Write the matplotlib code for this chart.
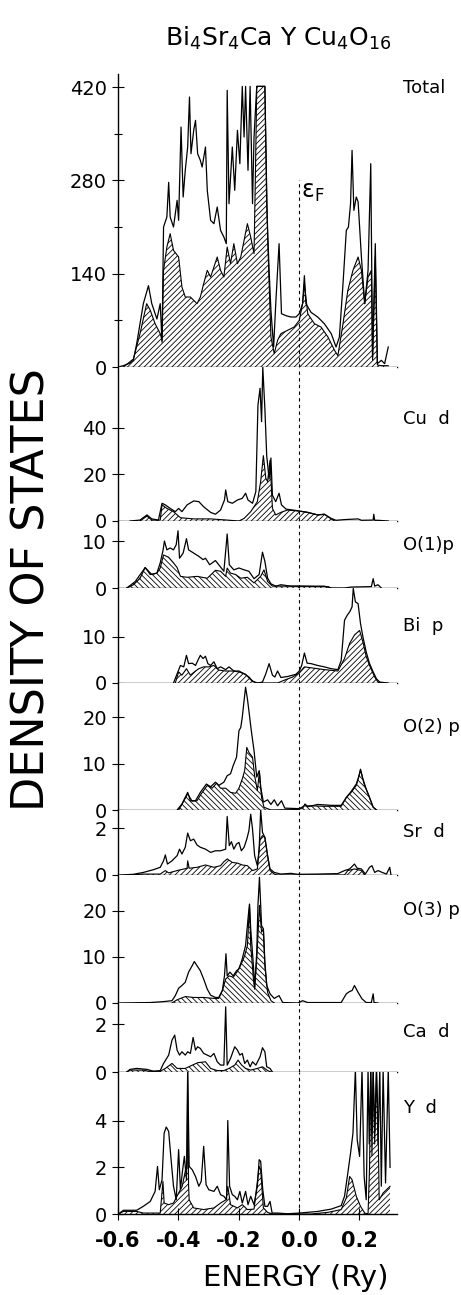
import numpy as np
import matplotlib
matplotlib.use("Agg")
import matplotlib.pyplot as plt

plt.rcParams['font.family'] = ['DejaVu Sans']
plt.rcParams['mathtext.default'] = 'regular'
plt.rcParams['hatch.color'] = 'black'
plt.rcParams['hatch.linewidth'] = 0.6

# energy (Ry), density of states -- upper line / hatched part, per panel
tot_up = np.array([(-0.600, 0), (-0.582, 2), (-0.560, 6), (-0.549, 10), (-0.538, 35), (-0.516, 95),
    (-0.499, 122), (-0.488, 95), (-0.471, 72), (-0.460, 95), (-0.454, 37), (-0.449, 210),
    (-0.438, 225), (-0.432, 277), (-0.427, 225), (-0.416, 210), (-0.404, 250), (-0.399, 220),
    (-0.391, 360), (-0.384, 255), (-0.377, 295), (-0.369, 330), (-0.363, 405), (-0.358, 320),
    (-0.349, 355), (-0.343, 370), (-0.336, 320), (-0.327, 310), (-0.321, 300), (-0.310, 330),
    (-0.304, 265), (-0.293, 220), (-0.282, 215), (-0.271, 240), (-0.260, 205), (-0.249, 195),
    (-0.241, 185), (-0.238, 415), (-0.232, 245), (-0.221, 330), (-0.213, 265), (-0.204, 355),
    (-0.196, 305), (-0.188, 421), (-0.182, 345), (-0.177, 421), (-0.169, 295), (-0.162, 421),
    (-0.154, 245), (-0.149, 345), (-0.140, 421), (-0.132, 421), (-0.121, 421), (-0.113, 421),
    (-0.107, 245), (-0.099, 145), (-0.093, 85), (-0.084, 30), (-0.077, 95), (-0.066, 185),
    (-0.058, 80), (-0.043, 77), (-0.027, 75), (-0.010, 75), (0.001, 80), (0.012, 95),
    (0.018, 137), (0.023, 95), (0.040, 82), (0.062, 75), (0.084, 65), (0.107, 50),
    (0.123, 30), (0.134, 45), (0.146, 125), (0.157, 205), (0.164, 210), (0.171, 245),
    (0.176, 325), (0.182, 235), (0.190, 255), (0.196, 248), (0.207, 165), (0.218, 95),
    (0.229, 145), (0.238, 305), (0.244, 15), (0.253, 185), (0.260, 5), (0.273, 10),
    (0.284, 5), (0.296, 30)])
tot_hat = np.array([(-0.582, 0), (-0.549, 12), (-0.527, 50), (-0.505, 95), (-0.493, 85), (-0.477, 65),
    (-0.460, 50), (-0.454, 40), (-0.449, 145), (-0.438, 180), (-0.427, 200), (-0.416, 175),
    (-0.399, 165), (-0.388, 120), (-0.377, 105), (-0.360, 105), (-0.338, 95), (-0.327, 105),
    (-0.316, 125), (-0.304, 145), (-0.293, 135), (-0.282, 150), (-0.271, 165), (-0.260, 145),
    (-0.249, 135), (-0.238, 180), (-0.227, 155), (-0.216, 185), (-0.204, 155), (-0.193, 165),
    (-0.182, 190), (-0.171, 215), (-0.160, 195), (-0.149, 170), (-0.144, 300), (-0.140, 421),
    (-0.121, 421), (-0.113, 421), (-0.104, 195), (-0.093, 45), (-0.082, 20), (-0.071, 40),
    (-0.060, 50), (-0.038, 55), (-0.016, 60), (0.001, 70), (0.012, 95), (0.018, 125),
    (0.029, 80), (0.051, 65), (0.073, 60), (0.096, 45), (0.118, 25), (0.129, 17),
    (0.146, 65), (0.162, 115), (0.179, 145), (0.196, 165), (0.207, 145), (0.218, 95),
    (0.229, 135), (0.240, 145), (0.244, 10), (0.253, 165), (0.260, 3), (0.273, 2), (0.296, 2)])

cud_up = np.array([(-0.560, 0), (-0.527, 0.4), (-0.504, 2.6), (-0.488, 0.9), (-0.466, 0.4), (-0.454, 7.6),
    (-0.443, 6.9), (-0.427, 5.4), (-0.410, 4.0), (-0.399, 5.4), (-0.388, 4.0), (-0.371, 6.9),
    (-0.349, 8.6), (-0.332, 8.3), (-0.316, 6.1), (-0.293, 3.7), (-0.277, 2.9), (-0.260, 4.7),
    (-0.247, 9.0), (-0.243, 13.3), (-0.236, 8.3), (-0.221, 7.6), (-0.204, 9.0), (-0.188, 9.7),
    (-0.177, 11.9), (-0.169, 9.0), (-0.154, 7.6), (-0.143, 12.6), (-0.136, 49.7), (-0.129, 56.9),
    (-0.124, 42.6), (-0.120, 66), (-0.113, 48), (-0.107, 28), (-0.099, 18), (-0.093, 27),
    (-0.088, 11), (-0.077, 8.3), (-0.066, 11.9), (-0.058, 6.9), (-0.043, 5.1), (-0.021, 4.7),
    (0.001, 4.3), (0.029, 3.7), (0.062, 2.6), (0.084, 2.9), (0.107, 1.1), (0.123, 0.3),
    (0.151, 0.6), (0.196, 0.9), (0.207, 0.3), (0.246, 0.4), (0.248, 2.9), (0.251, 0.3),
    (0.262, 0.3), (0.296, 0)])
cud_hat = np.array([(-0.527, 0), (-0.504, 2.1), (-0.488, 0.4), (-0.460, 0.4), (-0.454, 6.9), (-0.438, 5.4),
    (-0.416, 4.0), (-0.393, 1.4), (-0.349, 0.9), (-0.293, 0.9), (-0.238, 0.4), (-0.199, 0),
    (-0.182, 1.1), (-0.160, 4.0), (-0.138, 8.3), (-0.127, 16.9), (-0.118, 28), (-0.110, 18.3),
    (-0.104, 16.9), (-0.096, 26), (-0.088, 5.4), (-0.077, 2.6), (-0.060, 3.7), (-0.038, 4.7),
    (-0.004, 4.3), (0.029, 3.7), (0.062, 2.6), (0.084, 2.9), (0.107, 0.9), (0.118, 0)])

o1p_up = np.array([(-0.571, 0), (-0.549, 0.7), (-0.527, 2.1), (-0.510, 4.4), (-0.493, 2.9), (-0.471, 3.2),
    (-0.460, 5.4), (-0.451, 8.0), (-0.446, 10.1), (-0.438, 8.2), (-0.427, 8.6), (-0.416, 8.2),
    (-0.407, 9.3), (-0.401, 12.3), (-0.396, 6.4), (-0.384, 7.5), (-0.373, 10.6), (-0.366, 8.2),
    (-0.349, 7.5), (-0.332, 6.8), (-0.318, 6.1), (-0.310, 6.4), (-0.296, 5.0), (-0.277, 5.9),
    (-0.266, 5.0), (-0.249, 3.6), (-0.238, 11.6), (-0.231, 5.0), (-0.216, 3.9), (-0.199, 4.3),
    (-0.182, 3.9), (-0.166, 3.6), (-0.149, 2.0), (-0.132, 2.9), (-0.121, 7.7), (-0.113, 5.7),
    (-0.104, 2.1), (-0.093, 0.9), (-0.077, 0.4), (-0.060, 0.7), (-0.027, 0.4), (0.040, 0.4),
    (0.084, 0.4), (0.107, 0), (0.151, 0), (0.173, 0.2), (0.240, 0.3), (0.246, 2.0),
    (0.251, 0.4), (0.262, 0.7), (0.273, 0)])
o1p_hat = np.array([(-0.571, 0), (-0.543, 1.4), (-0.510, 4.4), (-0.488, 2.9), (-0.471, 3.2), (-0.460, 4.3),
    (-0.449, 7.1), (-0.432, 6.6), (-0.416, 5.4), (-0.404, 4.4), (-0.393, 2.5), (-0.371, 2.3),
    (-0.338, 2.5), (-0.304, 2.1), (-0.277, 3.8), (-0.260, 3.6), (-0.243, 2.5), (-0.238, 4.3),
    (-0.227, 3.2), (-0.210, 2.9), (-0.193, 2.1), (-0.171, 2.3), (-0.149, 1.1), (-0.127, 2.5),
    (-0.116, 3.9), (-0.104, 1.4), (-0.088, 0.4), (-0.060, 0.4), (-0.004, 0.4), (0.062, 0.3),
    (0.096, 0.3), (0.107, 0)])

bip_up = np.array([(-0.416, 0), (-0.404, 2.0), (-0.393, 3.8), (-0.382, 3.5), (-0.373, 6.0), (-0.366, 4.2),
    (-0.354, 4.3), (-0.343, 3.8), (-0.336, 4.8), (-0.327, 6.0), (-0.318, 5.3), (-0.310, 5.8),
    (-0.302, 4.2), (-0.293, 3.8), (-0.282, 4.6), (-0.271, 3.1), (-0.260, 3.5), (-0.243, 2.9),
    (-0.232, 3.5), (-0.216, 2.6), (-0.199, 2.6), (-0.182, 2.0), (-0.166, 1.3), (-0.154, 0.4),
    (-0.138, 0), (-0.121, 0.2), (-0.110, 2.0), (-0.099, 4.2), (-0.088, 1.7), (-0.080, 1.3),
    (-0.071, 2.6), (-0.060, 1.2), (-0.038, 1.4), (-0.010, 1.9), (0.001, 2.6), (0.009, 3.8),
    (0.018, 6.5), (0.027, 4.3), (0.040, 4.2), (0.062, 3.8), (0.084, 3.5), (0.107, 3.1),
    (0.129, 2.9), (0.140, 4.9), (0.151, 13.6), (0.160, 14.7), (0.168, 15.4), (0.176, 16.5),
    (0.180, 20.5), (0.187, 17.6), (0.196, 17.2), (0.204, 12.9), (0.212, 10.0), (0.223, 6.7),
    (0.234, 4.2), (0.246, 2.4), (0.257, 0.9), (0.268, 0.2), (0.296, 0)])
bip_hat = np.array([(-0.410, 0), (-0.399, 2.4), (-0.388, 1.7), (-0.373, 3.1), (-0.360, 1.7), (-0.343, 2.6),
    (-0.332, 3.1), (-0.316, 3.5), (-0.299, 3.5), (-0.282, 3.8), (-0.266, 2.8), (-0.243, 2.6),
    (-0.221, 2.6), (-0.199, 2.4), (-0.177, 1.9), (-0.160, 0.7), (-0.143, 0), (-0.071, 0),
    (-0.049, 0.6), (-0.021, 1.3), (0.001, 2.2), (0.018, 3.5), (0.040, 3.3), (0.084, 2.9),
    (0.129, 2.6), (0.151, 5.3), (0.168, 8.6), (0.184, 10.4), (0.201, 11.4), (0.212, 8.9),
    (0.223, 5.7), (0.234, 3.8), (0.251, 1.3), (0.262, 0.2), (0.273, 0)])

o2p_up = np.array([(-0.404, 0), (-0.388, 1.3), (-0.369, 3.8), (-0.360, 2.0), (-0.343, 2.0), (-0.327, 3.8),
    (-0.307, 5.6), (-0.293, 5.0), (-0.277, 6.0), (-0.266, 5.3), (-0.249, 6.0), (-0.238, 7.4),
    (-0.227, 7.8), (-0.218, 9.6), (-0.207, 11.4), (-0.199, 17.1), (-0.193, 17.8), (-0.188, 20.0),
    (-0.182, 23.6), (-0.177, 26.5), (-0.171, 24.0), (-0.166, 21.4), (-0.158, 17.1), (-0.149, 12.8),
    (-0.140, 7.1), (-0.132, 8.5), (-0.127, 4.9), (-0.118, 1.7), (-0.104, 2.2), (-0.093, 1.2),
    (-0.082, 2.2), (-0.071, 0.9), (-0.058, 2.0), (-0.047, 0.4), (-0.004, 0.3), (0.012, 0.4),
    (0.020, 1.3), (0.029, 0.7), (0.062, 1.2), (0.107, 1.0), (0.140, 1.0), (0.157, 2.7),
    (0.173, 4.0), (0.190, 5.6), (0.198, 7.1), (0.204, 8.8), (0.212, 6.7), (0.223, 4.5),
    (0.234, 2.7), (0.246, 0.6), (0.257, 0)])
o2p_hat = np.array([(-0.399, 0), (-0.388, 1.2), (-0.369, 3.5), (-0.354, 1.9), (-0.338, 2.0), (-0.324, 3.5),
    (-0.304, 5.3), (-0.288, 4.7), (-0.273, 5.8), (-0.260, 4.7), (-0.243, 4.7), (-0.227, 3.8),
    (-0.210, 3.6), (-0.199, 4.7), (-0.188, 6.7), (-0.180, 8.5), (-0.173, 13.5), (-0.166, 12.4),
    (-0.154, 11.4), (-0.147, 7.4), (-0.138, 4.2), (-0.131, 8.3), (-0.124, 2.7), (-0.116, 0.6),
    (-0.093, 0), (-0.004, 0.1), (0.018, 0.9), (0.040, 0.9), (0.084, 0.8), (0.140, 0.8),
    (0.157, 2.7), (0.173, 3.8), (0.190, 5.3), (0.204, 8.6), (0.216, 5.6), (0.229, 3.5),
    (0.246, 0.6), (0.257, 0)])

srd_up = np.array([(-0.593, 0), (-0.549, 0.03), (-0.516, 0.11), (-0.482, 0.23), (-0.460, 0.33), (-0.449, 0.61),
    (-0.443, 0.86), (-0.436, 0.47), (-0.421, 0.61), (-0.404, 0.83), (-0.396, 1.11), (-0.388, 0.90),
    (-0.377, 1.19), (-0.369, 1.80), (-0.360, 1.47), (-0.349, 1.54), (-0.338, 1.29), (-0.327, 1.19),
    (-0.310, 1.11), (-0.293, 0.97), (-0.277, 1.04), (-0.260, 1.04), (-0.243, 1.11), (-0.238, 2.51),
    (-0.231, 1.26), (-0.224, 1.43), (-0.216, 1.11), (-0.207, 1.33), (-0.199, 1.40), (-0.191, 1.04),
    (-0.182, 1.19), (-0.173, 1.54), (-0.166, 1.90), (-0.160, 2.61), (-0.154, 1.97), (-0.147, 0.83),
    (-0.138, 0.40), (-0.132, 1.11), (-0.127, 2.80), (-0.121, 1.83), (-0.113, 1.61), (-0.104, 0.83),
    (-0.096, 0.26), (-0.082, 0.11), (-0.060, 0.04), (-0.027, 0.07), (-0.004, 0.03), (0.062, 0.04),
    (0.129, 0.06), (0.151, 0.19), (0.168, 0.26), (0.184, 0.47), (0.193, 0.29), (0.207, 0.26),
    (0.220, 0.04), (0.234, 0.33), (0.242, 0.40), (0.251, 0.11), (0.262, 0.19), (0.276, 0.11),
    (0.290, 0.04), (0.301, 0.33), (0.305, 0)])
srd_hat = np.array([(-0.560, 0), (-0.516, 0.04), (-0.460, 0.04), (-0.443, 0.19), (-0.432, 0.09), (-0.404, 0.19),
    (-0.371, 0.29), (-0.369, 0.61), (-0.364, 0.29), (-0.338, 0.33), (-0.310, 0.43), (-0.282, 0.33),
    (-0.260, 0.40), (-0.249, 0.57), (-0.238, 0.69), (-0.221, 0.54), (-0.204, 0.51), (-0.188, 0.43),
    (-0.171, 0.40), (-0.154, 0.19), (-0.138, 0.26), (-0.129, 1.54), (-0.121, 1.69), (-0.113, 1.61),
    (-0.104, 0.83), (-0.096, 0.19), (-0.082, 0.04), (-0.071, 0), (0.151, 0), (0.162, 0.19),
    (0.184, 0.26), (0.207, 0.19), (0.218, 0)])

o3p_up = np.array([(-0.593, 0), (-0.493, 0.1), (-0.449, 0.3), (-0.421, 0.5), (-0.410, 1.6), (-0.399, 3.2),
    (-0.388, 3.8), (-0.377, 4.5), (-0.366, 6.7), (-0.354, 8.1), (-0.347, 9.0), (-0.338, 8.1),
    (-0.327, 7.0), (-0.316, 5.2), (-0.304, 3.0), (-0.293, 1.7), (-0.277, 1.2), (-0.266, 1.2),
    (-0.254, 2.7), (-0.247, 5.9), (-0.242, 10.7), (-0.238, 5.9), (-0.229, 6.7), (-0.218, 5.9),
    (-0.207, 7.0), (-0.199, 7.4), (-0.188, 9.6), (-0.177, 12.5), (-0.169, 18.3), (-0.164, 21.5),
    (-0.160, 16.1), (-0.151, 8.1), (-0.147, 3.4), (-0.140, 11.0), (-0.136, 21.2), (-0.131, 27.3),
    (-0.124, 16.8), (-0.118, 16.1), (-0.113, 8.8), (-0.107, 3.8), (-0.096, 2.0), (-0.082, 1.0),
    (-0.066, 1.6), (-0.054, 0.1), (-0.004, 0), (0.012, 0.5), (0.029, 0.1), (0.140, 0.1),
    (0.157, 2.0), (0.168, 2.5), (0.176, 2.7), (0.184, 3.8), (0.196, 2.3), (0.209, 0.9),
    (0.223, 0.1), (0.240, 0.1), (0.246, 2.0), (0.249, 0.1), (0.262, 0)])
o3p_hat = np.array([(-0.421, 0), (-0.404, 0.7), (-0.377, 1.4), (-0.349, 1.2), (-0.316, 1.2), (-0.282, 1.0),
    (-0.266, 1.0), (-0.254, 2.7), (-0.243, 5.2), (-0.232, 5.9), (-0.218, 5.6), (-0.206, 6.7),
    (-0.191, 8.5), (-0.180, 10.3), (-0.171, 12.5), (-0.164, 21.2), (-0.160, 12.5), (-0.151, 5.2),
    (-0.147, 3.0), (-0.140, 9.6), (-0.131, 21.2), (-0.124, 15.4), (-0.118, 16.1), (-0.113, 8.1),
    (-0.104, 2.3), (-0.093, 0.5), (-0.082, 0)])

cad_up = np.array([(-0.571, 0), (-0.560, 0.11), (-0.538, 0.15), (-0.504, 0.11), (-0.482, 0.03), (-0.460, 0.06),
    (-0.449, 0.36), (-0.432, 0.71), (-0.421, 1.34), (-0.412, 1.55), (-0.404, 0.92), (-0.396, 0.71),
    (-0.388, 0.85), (-0.377, 0.71), (-0.369, 0.85), (-0.360, 0.78), (-0.351, 1.45), (-0.343, 0.92),
    (-0.336, 1.06), (-0.327, 0.99), (-0.316, 0.78), (-0.304, 0.71), (-0.293, 0.64), (-0.282, 0.78),
    (-0.271, 0.43), (-0.260, 0.29), (-0.249, 0.29), (-0.243, 2.74), (-0.238, 0.29), (-0.227, 0.57),
    (-0.213, 1.06), (-0.204, 0.92), (-0.196, 0.71), (-0.188, 0.78), (-0.180, 0.36), (-0.171, 0.50),
    (-0.162, 0.22), (-0.154, 0.43), (-0.143, 0.29), (-0.129, 0.64), (-0.121, 1.02), (-0.113, 0.85),
    (-0.107, 0.22), (-0.096, 0.15), (-0.088, 0)])
cad_hat = np.array([(-0.571, 0), (-0.560, 0.08), (-0.516, 0.08), (-0.499, 0.03), (-0.460, 0.03), (-0.443, 0.15),
    (-0.421, 0.36), (-0.404, 0.15), (-0.377, 0.15), (-0.360, 0.25), (-0.336, 0.39), (-0.310, 0.43),
    (-0.293, 0.15), (-0.271, 0.06), (-0.249, 0.06), (-0.232, 0.15), (-0.213, 0.29), (-0.202, 0.50),
    (-0.190, 0.29), (-0.177, 0.15), (-0.160, 0.08), (-0.138, 0.15), (-0.121, 0.22), (-0.104, 0.06),
    (-0.093, 0)])

yd_up = np.array([(-0.599, 0), (-0.582, 0.16), (-0.538, 0.16), (-0.516, 0.33), (-0.493, 0.54), (-0.477, 0.97),
    (-0.469, 2.04), (-0.463, 1.04), (-0.454, 1.47), (-0.447, 3.47), (-0.440, 3.73), (-0.432, 3.54),
    (-0.424, 2.33), (-0.416, 1.19), (-0.407, 0.61), (-0.399, 2.76), (-0.393, 1.04), (-0.387, 1.76),
    (-0.380, 2.47), (-0.373, 1.47), (-0.369, 6.2), (-0.364, 2.04), (-0.354, 1.90), (-0.343, 1.61),
    (-0.332, 1.19), (-0.324, 1.40), (-0.316, 2.90), (-0.308, 1.26), (-0.299, 1.04), (-0.282, 0.97),
    (-0.271, 1.19), (-0.260, 0.83), (-0.249, 0.76), (-0.240, 0.61), (-0.236, 4.01), (-0.230, 1.19),
    (-0.221, 0.83), (-0.213, 0.76), (-0.204, 0.61), (-0.196, 0.97), (-0.188, 0.47), (-0.177, 0.97),
    (-0.169, 0.40), (-0.160, 0.76), (-0.149, 0.40), (-0.138, 1.19), (-0.132, 2.33), (-0.127, 2.26),
    (-0.120, 1.04), (-0.113, 0.33), (-0.104, 0.33), (-0.096, 0.54), (-0.089, 0.04), (-0.071, 0.04),
    (-0.038, 0.01), (0.001, 0.04), (0.062, 0.11), (0.107, 0.21), (0.140, 0.36), (0.151, 0.76),
    (0.162, 1.76), (0.171, 2.61), (0.179, 3.47), (0.187, 6.2), (0.193, 3.19), (0.201, 2.47),
    (0.209, 6.2), (0.216, 1.61), (0.223, 0.61), (0.229, 6.2), (0.233, 3.0), (0.238, 6.2),
    (0.242, 3.5), (0.246, 6.2), (0.251, 3.5), (0.257, 6.2), (0.262, 3.0), (0.268, 6.2),
    (0.273, 1.19), (0.279, 6.2), (0.287, 1.33), (0.296, 6.2), (0.302, 2.0)])
yd_hat = np.array([(-0.599, 0), (-0.582, 0.11), (-0.538, 0.11), (-0.516, 0.04), (-0.460, 0.04), (-0.451, 1.40),
    (-0.447, 0.47), (-0.432, 0.40), (-0.416, 0.47), (-0.399, 0.90), (-0.387, 1.19), (-0.376, 1.90),
    (-0.371, 2.04), (-0.369, 6.2), (-0.366, 1.2), (-0.364, 0.61), (-0.349, 0.26), (-0.316, 0.19),
    (-0.282, 0.26), (-0.260, 0.47), (-0.242, 0.61), (-0.236, 1.19), (-0.227, 0.40), (-0.204, 0.26),
    (-0.188, 0.40), (-0.171, 0.19), (-0.149, 0.21), (-0.132, 2.04), (-0.127, 1.90), (-0.118, 0.26),
    (-0.104, 0.07), (-0.088, 0), (0.040, 0), (0.096, 0.07), (0.140, 0.19), (0.157, 0.69),
    (0.168, 1.61), (0.176, 1.47), (0.190, 0.76), (0.204, 0.33), (0.218, 0.04), (0.229, 0.01),
    (0.234, 2.0), (0.238, 6.2), (0.242, 2.5), (0.246, 6.2), (0.251, 3.0), (0.257, 6.2),
    (0.262, 4.0), (0.266, 0.61), (0.279, 0.90), (0.290, 1.04), (0.302, 1.19)])

labels = ['Total', 'Cu  d', 'O(1)p', 'Bi  p', 'O(2) p', 'Sr  d', 'O(3) p', 'Ca  d', 'Y  d']
ups = [tot_up, cud_up, o1p_up, bip_up, o2p_up, srd_up, o3p_up, cad_up, yd_up]
hats = [tot_hat, cud_hat, o1p_hat, bip_hat, o2p_hat, srd_hat, o3p_hat, cad_hat, yd_hat]
yticks = [[0, 140, 280, 420], [0, 20, 40], [0, 10], [0, 10], [0, 10, 20],
          [0, 2], [0, 10, 20], [0, 2], [0, 2, 4]]
ytops = [440, 66, 14.4, 20.6, 27.4, 2.79, 27.8, 2.9, 6.09]

# panel geometry in pixels of the 461x1295 figure (bottom edge of each panel)
W, H = 461.0, 1295.0
edges = [73.7, 367, 521, 588, 683, 810, 875, 1003, 1072, 1214]
label_y = [88, 419, 545, 626, 727, 832, 910, 1032, 1108]
hatches = ['//////', '//////', '\\\\\\\\\\\\', '//////', '\\\\\\\\\\\\',
           '//////', '\\\\\\\\\\\\', '\\\\\\\\\\\\', '//////']

fig = plt.figure(figsize=(4.61, 12.95), dpi=100)
x0, x1 = 118, 397
axes = []
for i in range(9):
    top, bot = edges[i], edges[i + 1]
    ax = fig.add_axes([x0 / W, 1 - bot / H, (x1 - x0) / W, (bot - top) / H])
    axes.append(ax)
    up, ht = ups[i], hats[i]
    ax.fill_between(ht[:, 0], 0, ht[:, 1], facecolor='white', edgecolor='black',
                    hatch=hatches[i], linewidth=0)
    ax.plot(ht[:, 0], ht[:, 1], color='black', lw=0.8)
    ax.plot(up[:, 0], up[:, 1], color='black', lw=0.9)
    ax.set_xlim(-0.6, 0.325)
    ax.set_ylim(0, ytops[i])
    for s in ['top', 'right']:
        ax.spines[s].set_visible(False)
    ax.spines['left'].set_linewidth(1.0)
    ax.spines['bottom'].set_linewidth(1.0)
    ax.set_yticks(yticks[i])
    ax.set_yticklabels([str(t) for t in yticks[i]])
    ax.tick_params(axis='y', direction='inout', length=8, width=0.8, labelsize=14, pad=4)
    if i == 0:
        ax.axvline(0, ymin=0, ymax=280 / 440, color='black', lw=0.8, ls=(0, (3, 3)))
        ax.set_yticks([70, 210, 350], minor=True)
        ax.tick_params(axis='y', which='minor', direction='inout', length=6, width=0.8)
        ax.text(0.006, 262, r'$\epsilon_F$', fontsize=17, va='center', ha='left')
    else:
        ax.axvline(0, color='black', lw=0.8, ls=(0, (3, 3)))
    if i < 8:
        ax.set_xticks([])
    fig.text(403 / W, 1 - label_y[i] / H, labels[i], fontsize=13, ha='left', va='center')

ax = axes[-1]
ax.set_xticks([-0.6, -0.4, -0.2, 0.0, 0.2])
ax.set_xticklabels(['-0.6', '-0.4', '-0.2', '0.0', '0.2'], fontsize=15, fontweight='bold')
ax.tick_params(axis='x', direction='inout', length=8, width=0.8, pad=8)

fig.text(278 / W, 1 - 38 / H, r'Bi$_4$Sr$_4$Ca Y Cu$_4$O$_{16}$', fontsize=18,
         ha='center', va='center')
fig.text(32 / W, 1 - 590 / H, 'DENSITY OF STATES', fontsize=32, rotation=90,
         ha='center', va='center')
fig.text(296 / W, 1 - 1278 / H, 'ENERGY (Ry)', fontsize=21, ha='center', va='center')

fig.savefig('out.png', dpi=100)
